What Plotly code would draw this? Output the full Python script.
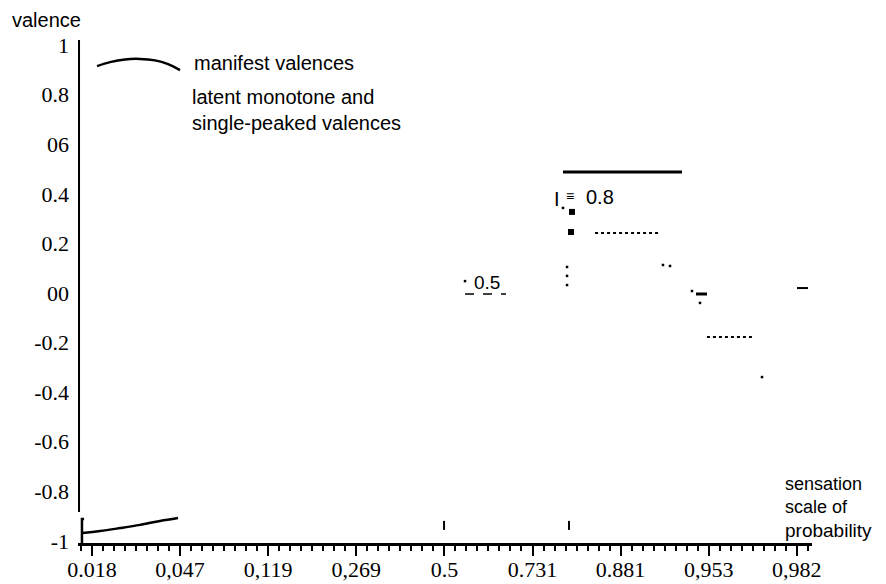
import plotly.graph_objects as go

# x axis: evenly spaced probability scale, labels as printed
x_tick_vals = [0, 1, 2, 3, 4, 5, 6, 7, 8]
x_tick_text = ["0.018", "0,047", "0,119", "0,269", "0.5", "0.731", "0.881", "0,953", "0,982"]

y_tick_vals = [1, 0.8, 0.6, 0.4, 0.2, 0, -0.2, -0.4, -0.6, -0.8, -1]
y_tick_text = ["1", "0.8", "06", "0.4", "0.2", "00", "-0.2", "-0.4", "-0.6", "-0.8", "-1"]

# legend symbol: manifest valence arc
legend_arc_x = [0.057, 0.204, 0.375, 0.545, 0.715, 0.863, 0.999]
legend_arc_y = [0.915, 0.931, 0.942, 0.944, 0.938, 0.923, 0.899]

# manifest valence curve near the bottom
manifest_x = [-0.114, 0.091, 0.318, 0.545, 0.772, 0.976]
manifest_y = [-0.968, -0.960, -0.948, -0.935, -0.919, -0.907]

# vertical axis (broken near -1) and the small bracket
yaxis_x = [-0.153, -0.153]
yaxis_y = [1.020, -0.883]
bracket_x = [-0.09, -0.114, -0.114]
bracket_y = [-0.911, -0.911, -1.008]

# latent valence fragments
latent_top_x = [5.346, 6.697]
latent_top_y = [0.488, 0.488]
dotted_high_x = [5.710, 6.425]
dotted_high_y = [0.242, 0.242]
dotted_low_x = [6.980, 7.514]
dotted_low_y = [-0.177, -0.177]
arrows_x = [4.234, 4.699]
arrows_y = [-0.004, -0.004]
dash_mid_x = [6.856, 6.981]
dash_mid_y = [-0.004, -0.004]
dash_right_x = [8.002, 8.127]
dash_right_y = [0.020, 0.020]
square_x = [5.448, 5.437]
square_y = [0.327, 0.246]
speck_x = [5.346, 5.392, 5.392, 5.392, 6.481, 6.561, 6.810, 6.901, 7.605, 4.234]
speck_y = [0.343, 0.105, 0.069, 0.032, 0.113, 0.109, 0.008, -0.040, -0.339, 0.048]

# dashed reference marks above the axis at 0.5 and just right of 0.731
ref_x = [3.996, 5.414]
ref_y0 = -0.919
ref_y1 = -0.984

fig = go.Figure()


def seg(x, y, width=2.0, dash="solid", shape="linear"):
    fig.add_scatter(x=x, y=y, mode="lines", showlegend=False, hoverinfo="skip",
                    line=dict(color="black", width=width, dash=dash, shape=shape))


seg(yaxis_x, yaxis_y, width=3)
seg(bracket_x, bracket_y, width=2.5)
seg(legend_arc_x, legend_arc_y, width=2.5, shape="spline")
seg(manifest_x, manifest_y, width=2.5, shape="spline")
seg(latent_top_x, latent_top_y, width=3)
seg(dotted_high_x, dotted_high_y, width=2, dash="dot")
seg(dotted_low_x, dotted_low_y, width=2, dash="dot")
seg(arrows_x, arrows_y, width=1.5, dash="dash")
seg(dash_mid_x, dash_mid_y, width=3)
seg(dash_right_x, dash_right_y, width=2)
for rx in ref_x:
    seg([rx, rx], [ref_y0, ref_y1], width=2, dash="dash")

fig.add_scatter(x=square_x, y=square_y, mode="markers", showlegend=False, hoverinfo="skip",
                marker=dict(symbol="square", size=6, color="black"))
fig.add_scatter(x=speck_x, y=speck_y, mode="markers", showlegend=False, hoverinfo="skip",
                marker=dict(symbol="square", size=2.5, color="black"))

sans = "Liberation Sans, Arial, sans-serif"
serif = "Liberation Serif, Times New Roman, serif"


def label(text, x, y, size=20, anchor="left", ref="data"):
    extra = dict(xref="paper", yref="paper") if ref == "paper" else {}
    fig.add_annotation(x=x, y=y, text=text, showarrow=False, xanchor=anchor, yanchor="middle",
                       font=dict(family=sans, size=size, color="black"), **extra)


label("valence", -0.092, 1.04, ref="paper")
label("manifest valences", 1.135, 0.927)
label("latent monotone and", 1.112, 0.790)
label("single-peaked valences", 1.112, 0.685)
label("I", 5.22, 0.379, size=20)
label("≡", 5.36, 0.391, size=14)
label("0.8", 5.766, 0.387, size=20, anchor="center")
label("0.5", 4.484, 0.044, size=19, anchor="center")
label("sensation", 7.843, -0.772, size=18)
label("scale of", 7.843, -0.862, size=18)
label("probability", 7.843, -0.956, size=19)

fig.update_xaxes(
    range=[-0.1589, 8.1725], tickvals=x_tick_vals, ticktext=x_tick_text, automargin=False,
    showline=True, linewidth=2.5, linecolor="black", showgrid=False, zeroline=False,
    ticks="outside", ticklen=10, tickwidth=1.5, tickcolor="black",
    minor=dict(dtick=0.125, tick0=0, ticks="outside", ticklen=5, tickwidth=1.5, tickcolor="black"),
    tickfont=dict(family=serif, size=22, color="black"), ticklabelstandoff=-5,
)
fig.update_yaxes(
    range=[-1.0081, 1.0202], tickvals=y_tick_vals, ticktext=y_tick_text, automargin=False,
    showline=False, showgrid=False, zeroline=False, ticks="",
    tickfont=dict(family=serif, size=22, color="black"), ticklabelstandoff=8,
)
fig.update_layout(
    width=886, height=584, margin=dict(l=78, r=74, t=40, b=41),
    plot_bgcolor="white", paper_bgcolor="white",
)
fig.write_html("out.html", config={"displayModeBar": False},
               post_script="document.body.style.margin='0';")
